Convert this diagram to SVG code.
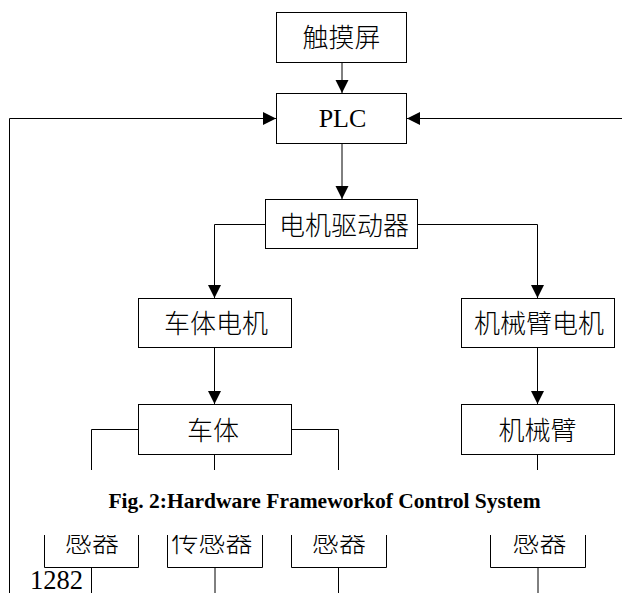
<svg xmlns="http://www.w3.org/2000/svg" width="622" height="593" viewBox="0 0 622 593">
<style>
.box{fill:#fff;stroke:#000;stroke-width:1}
.ln{fill:none;stroke:#000;stroke-width:1}
.zh{font-family:"Noto Sans CJK SC",sans-serif;font-weight:300;font-size:26px;text-anchor:middle;fill:#000}
.en{font-family:"Liberation Serif",serif;font-size:26px;text-anchor:middle;fill:#000}
.cap{font-family:"Liberation Serif",serif;font-weight:bold;font-size:21.5px;text-anchor:middle;fill:#000}
</style>
<defs>
<marker id="ah" markerUnits="userSpaceOnUse" markerWidth="14" markerHeight="14" refX="13" refY="7" orient="auto" viewBox="0 0 14 14">
<path d="M0,0.5 L13,7 L0,13.5 Z" fill="#000"/>
</marker>
<clipPath id="cut"><rect x="0" y="535" width="622" height="58"/></clipPath>
</defs>
<g id="connectors">
<path class="ln" d="M342,62.5 V93" marker-end="url(#ah)"/>
<path class="ln" d="M9.5,593 V118.5 H276" marker-end="url(#ah)"/>
<path class="ln" d="M622,118.5 H407" marker-end="url(#ah)"/>
<path class="ln" d="M342,143.5 V199" marker-end="url(#ah)"/>
<path class="ln" d="M265.5,224.5 H214.5 V298" marker-end="url(#ah)"/>
<path class="ln" d="M417.5,224.5 H537.5 V298" marker-end="url(#ah)"/>
<path class="ln" d="M214.5,347.5 V404" marker-end="url(#ah)"/>
<path class="ln" d="M537.5,347.5 V404" marker-end="url(#ah)"/>
<path class="ln" d="M138.5,429.5 H91.5 V470"/>
<path class="ln" d="M291.5,429.5 H338.5 V470"/>
<path class="ln" d="M214.5,454.5 V470"/>
<path class="ln" d="M537.5,454.5 V470"/>
<path class="ln" d="M91.5,567.5 V593"/>
<path class="ln" d="M215,567.5 V593"/>
<path class="ln" d="M338.5,567.5 V593"/>
<path class="ln" d="M538,567.5 V593"/>
</g>
<g id="touchscreen"><rect class="box" x="276.5" y="12.5" width="130" height="50"/><text class="zh" x="341.5" y="46.5">触摸屏</text></g>
<g id="plc"><rect class="box" x="276.5" y="93.5" width="130" height="50"/><text class="en" x="342.5" y="127">PLC</text></g>
<g id="driver"><rect class="box" x="265.5" y="199.5" width="152" height="49"/><text class="zh" x="344" y="234.5">电机驱动器</text></g>
<g id="body-motor"><rect class="box" x="138.5" y="298.5" width="153" height="49"/><text class="zh" x="216" y="333">车体电机</text></g>
<g id="arm-motor"><rect class="box" x="461.5" y="298.5" width="153" height="49"/><text class="zh" x="539" y="333">机械臂电机</text></g>
<g id="body"><rect class="box" x="138.5" y="404.5" width="153" height="50"/><text class="zh" x="213" y="439.5">车体</text></g>
<g id="arm"><rect class="box" x="461.5" y="404.5" width="153" height="50"/><text class="zh" x="537.5" y="439.5">机械臂</text></g>
<g id="sensors" clip-path="url(#cut)">
<g id="sensor1"><path class="ln" d="M44.5,530 V567.5 H138.5 V530"/><text class="zh" x="92" y="551.5" style="font-size:27px">感器</text></g>
<g id="sensor2"><path class="ln" d="M167.5,530 V567.5 H262.5 V530"/><text class="zh" x="212" y="551.5" style="font-size:27px">传感器</text></g>
<g id="sensor3"><path class="ln" d="M291.5,530 V567.5 H386.5 V530"/><text class="zh" x="339" y="551.5" style="font-size:27px">感器</text></g>
<g id="sensor4"><path class="ln" d="M490.5,530 V567.5 H585.5 V530"/><text class="zh" x="539.5" y="551.5" style="font-size:27px">感器</text></g>
</g>
<text class="cap" x="324.5" y="508">Fig. 2:Hardware Frameworkof Control System</text>
<text class="en" x="30" y="589" style="text-anchor:start;font-size:26.5px">1282</text>
</svg>
